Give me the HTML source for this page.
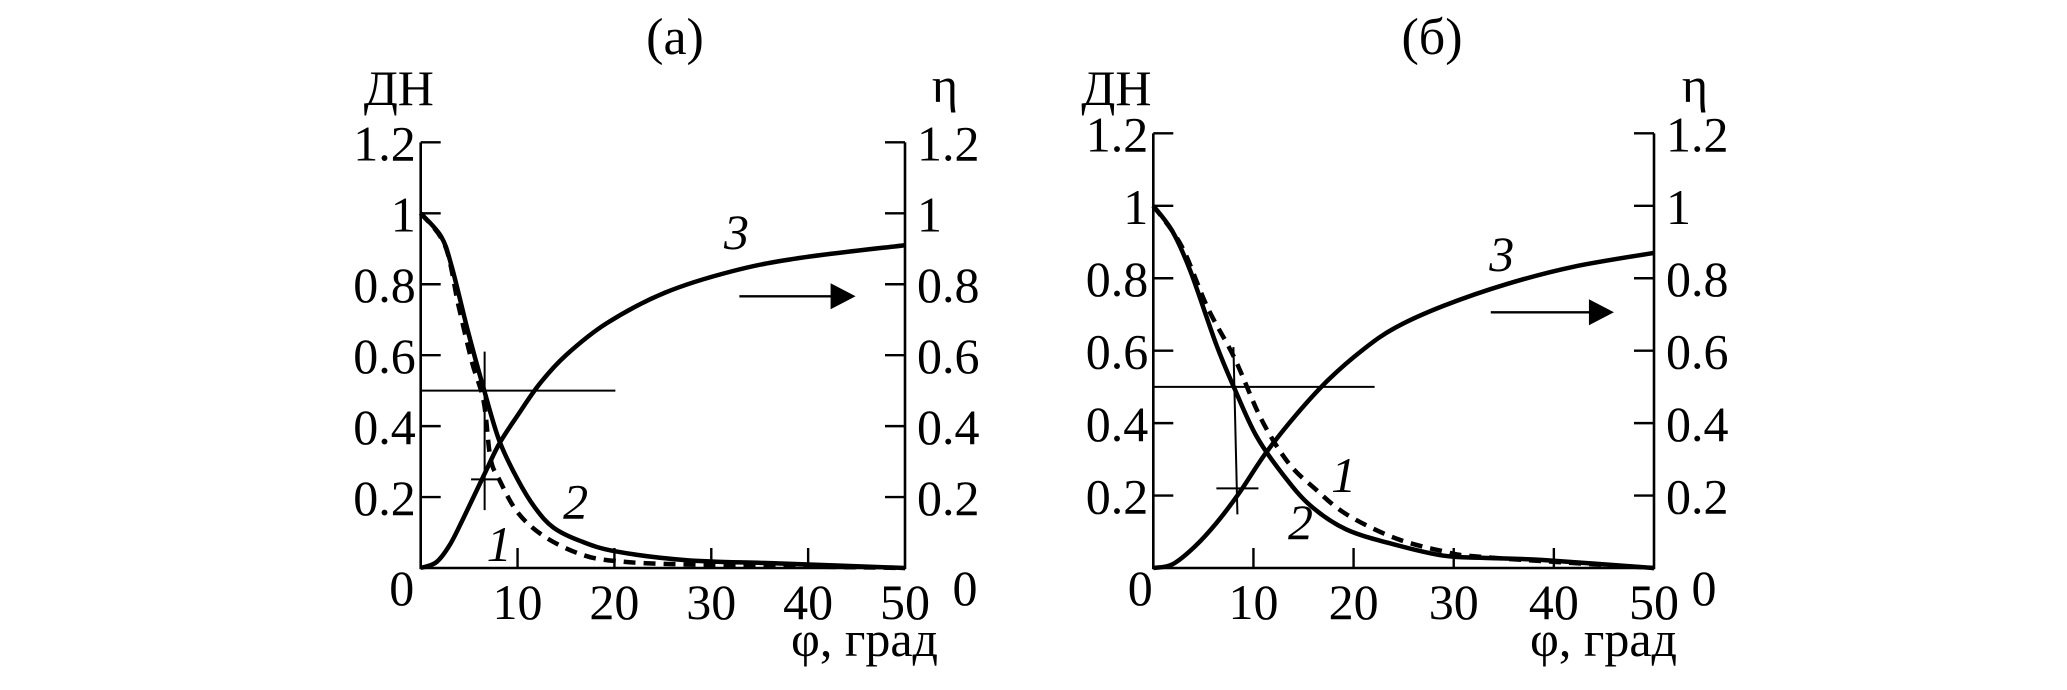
<!DOCTYPE html>
<html><head><meta charset="utf-8">
<style>
html,body{margin:0;padding:0;background:#fff;}
svg text{font-family:"Liberation Serif","DejaVu Serif",serif;fill:#000;}
</style></head>
<body>
<svg id="chart" xmlns="http://www.w3.org/2000/svg" width="2067" height="685" viewBox="0 0 2067 685">
<rect width="2067" height="685" fill="#fff"/>
</svg>
<script>
// Shared axis data
const xTicks = [0,10,20,30,40,50];
const yTicks = [0,0.2,0.4,0.6,0.8,1,1.2];
const yTickLabels = ["0","0.2","0.4","0.6","0.8","1","1.2"];
// Panel (a) data
const a_c2_x = [0,2.1,3.2,4.9,6.5,8.1,10,11.8,13.7,16.4,20.1,27.5,36.8,50];
const a_c2_y = [1,0.935,0.85,0.665,0.506,0.36,0.25,0.17,0.114,0.077,0.047,0.022,0.013,0];
const a_c1_x = [0,2.5,3.9,5.3,6.5,7.2,8.1,10,12.7,16.4,20,27.5,50];
const a_c1_y = [1,0.91,0.74,0.58,0.47,0.31,0.25,0.157,0.09,0.04,0.02,0.01,0];
const a_c3_x = [0,1.6,3,4.4,6.5,8.1,10,12.3,15,19.2,25.2,32.2,39.1,50];
const a_c3_y = [0,0.016,0.065,0.14,0.26,0.35,0.43,0.52,0.6,0.69,0.776,0.837,0.874,0.91];
// Panel (б) data
const b_c2_x = [0,1.9,3.7,6.3,8.1,10.3,13,15.7,19.3,24.2,29,33,38.9,50];
const b_c2_y = [1,0.93,0.82,0.616,0.496,0.364,0.256,0.172,0.106,0.064,0.034,0.028,0.022,0];
const b_c1_x = [0,2.8,5.4,8.1,10.8,13.5,16.1,19.3,24.2,29,33,50];
const b_c1_y = [1,0.89,0.72,0.58,0.41,0.29,0.22,0.148,0.082,0.046,0.03,0];
const b_c3_x = [0,1.9,4.1,6.3,8.6,11.2,14.3,17.5,21,24.2,29,35.3,42,50];
const b_c3_y = [0,0.01,0.058,0.124,0.208,0.316,0.424,0.52,0.604,0.664,0.724,0.784,0.832,0.87];

const NS="http://www.w3.org/2000/svg";
const svg=document.getElementById('chart');
function mk(tag,attrs,parent){const e=document.createElementNS(NS,tag);for(const k in attrs)e.setAttribute(k,attrs[k]);(parent||svg).appendChild(e);return e;}
function smooth(pts){let d="M"+pts[0][0]+","+pts[0][1];for(let i=0;i<pts.length-1;i++){const p0=pts[i-1]||pts[i],p1=pts[i],p2=pts[i+1],p3=pts[i+2]||p2;const c1x=p1[0]+(p2[0]-p0[0])/6,c1y=p1[1]+(p2[1]-p0[1])/6,c2x=p2[0]-(p3[0]-p1[0])/6,c2y=p2[1]-(p3[1]-p1[1])/6;d+=" C"+c1x+","+c1y+" "+c2x+","+c2y+" "+p2[0]+","+p2[1];}return d;}

const FS=50;
function panel(cfg){
  const g=mk('g',{});
  
  
  const X=v=>cfg.x0+(cfg.x1-cfg.x0)*v/50;
  const Y=v=>cfg.y0-(cfg.y0-cfg.yone)*v;
  const top=Y(1.2);
  const ax=mk('path',{d:`M${X(0)},${top} L${X(0)},${Y(0)} L${X(50)},${Y(0)} L${X(50)},${top}`,fill:'none',stroke:'#000','stroke-width':2.6},g);
  
  
  yTicks.forEach((v,i)=>{
    if(v>0){
      const tl=mk('line',{x1:X(0),x2:X(0)+20,y1:Y(v),y2:Y(v),stroke:'#000','stroke-width':2.4},g);
      
      
      const tr=mk('line',{x1:X(50),x2:X(50)-20,y1:Y(v),y2:Y(v),stroke:'#000','stroke-width':2.4},g);
      
      
      const l=mk('text',{x:X(0)-5,y:Y(v)+18,'font-size':FS,'text-anchor':'end'},g);
      l.textContent=yTickLabels[i];
      
      
      const r=mk('text',{x:X(50)+12,y:Y(v)+18,'font-size':FS},g);
      r.textContent=yTickLabels[i];
      
      
    }
  });
  const z1=mk('text',{x:X(0)+cfg.lz,y:Y(0)+37,'font-size':FS,'text-anchor':'middle'},g);z1.textContent="0";
  
  
  const z2=mk('text',{x:X(50)+cfg.rz,y:Y(0)+37,'font-size':FS,'text-anchor':'middle'},g);z2.textContent="0";
  
  
  xTicks.forEach(v=>{
    if(v>0&&v<50){
      const t=mk('line',{x1:X(v),x2:X(v),y1:Y(0),y2:Y(0)-20,stroke:'#000','stroke-width':2.4},g);
      
      
    }
    if(v>0){
      const l=mk('text',{x:X(v),y:Y(0)+51,'font-size':FS,'text-anchor':'middle'},g);
      l.textContent=String(v);
      
      
    }
  });
  const xt=mk('text',{x:X(50)+cfg.phi,y:Y(0)+88,'font-size':FS,'text-anchor':'end'},g);xt.textContent="φ, град";
  
  
  const yl=mk('text',{x:X(0)+cfg.dn,y:105,'font-size':FS},g);yl.textContent="ДН";
  
  
  const yr=mk('text',{x:cfg.etaX,y:102,'font-size':FS,'text-anchor':'middle'},g);yr.textContent="η";
  
  
  const ti=mk('text',{x:cfg.titleX,y:54,'font-size':52,'text-anchor':'middle'},g);ti.textContent=cfg.title;
  
  
  const h=mk('line',{x1:X(0),x2:X(cfg.hEnd),y1:Y(0.5),y2:Y(0.5),stroke:'#000','stroke-width':2},g);
  
  
  const vv=mk('line',{x1:X(cfg.vx[0]),x2:X(cfg.vx[1]),y1:Y(cfg.vy[0]),y2:Y(cfg.vy[1]),stroke:'#000','stroke-width':2},g);
  
  
  const sh=mk('line',{x1:X(cfg.sx[0]),x2:X(cfg.sx[1]),y1:Y(cfg.sy),y2:Y(cfg.sy),stroke:'#000','stroke-width':2},g);
  
  
  const series=[[cfg.c1x,cfg.c1y,'curve-1','12,8'],[cfg.c2x,cfg.c2y,'curve-2',null],[cfg.c3x,cfg.c3y,'curve-3',null]];
  series.forEach(s=>{
    const pts=s[0].map((x,i)=>[X(x),Y(s[1][i])]);
    const p=mk('path',{d:smooth(pts),fill:'none',stroke:'#000','stroke-width':4.5},g);
    if(s[3])p.setAttribute('stroke-dasharray',s[3]);
    
    
  });
  cfg.labels.forEach(L=>{
    const t=mk('text',{x:X(L[1]),y:Y(L[2]),'font-size':FS,'font-style':'italic','text-anchor':'middle'},g);
    t.textContent=L[0];
    
    
  });
  const ar=mk('line',{x1:X(cfg.arrow[0]),x2:X(cfg.arrow[1])-22,y1:Y(cfg.arrow[2]),y2:Y(cfg.arrow[2]),stroke:'#000','stroke-width':2.4},g);
  
  
  const ah=mk('polygon',{points:`${X(cfg.arrow[1])},${Y(cfg.arrow[2])} ${X(cfg.arrow[1])-25},${Y(cfg.arrow[2])-13} ${X(cfg.arrow[1])-25},${Y(cfg.arrow[2])+13}`,fill:'#000'},g);
  
  
}
panel({name:'panel-a',title:'(a)',titleX:675,etaX:945,x0:420.7,x1:905,y0:568,yone:213.3,
  lz:-19,rz:60,phi:33,dn:-57,
  c1x:a_c1_x,c1y:a_c1_y,c2x:a_c2_x,c2y:a_c2_y,c3x:a_c3_x,c3y:a_c3_y,
  hEnd:20.1,vx:[6.6,6.6],vy:[0.61,0.163],sx:[5.2,8.1],sy:0.25,
  labels:[['3',32.6,0.9],['2',16,0.14],['1',8.1,0.02]],arrow:[32.9,44.9,0.766]});
panel({name:'panel-b',title:'(б)',titleX:1432,etaX:1695,x0:1153.3,x1:1654,y0:568,yone:205.8,
  lz:-13,rz:50,phi:23,dn:-72,
  c1x:b_c1_x,c1y:b_c1_y,c2x:b_c2_x,c2y:b_c2_y,c3x:b_c3_x,c3y:b_c3_y,
  hEnd:22.1,vx:[8.0,8.4],vy:[0.61,0.148],sx:[6.3,10.5],sy:0.22,
  labels:[['3',34.8,0.82],['1',19,0.21],['2',14.7,0.08]],arrow:[33.7,46,0.706]});
</script>
</body></html>
